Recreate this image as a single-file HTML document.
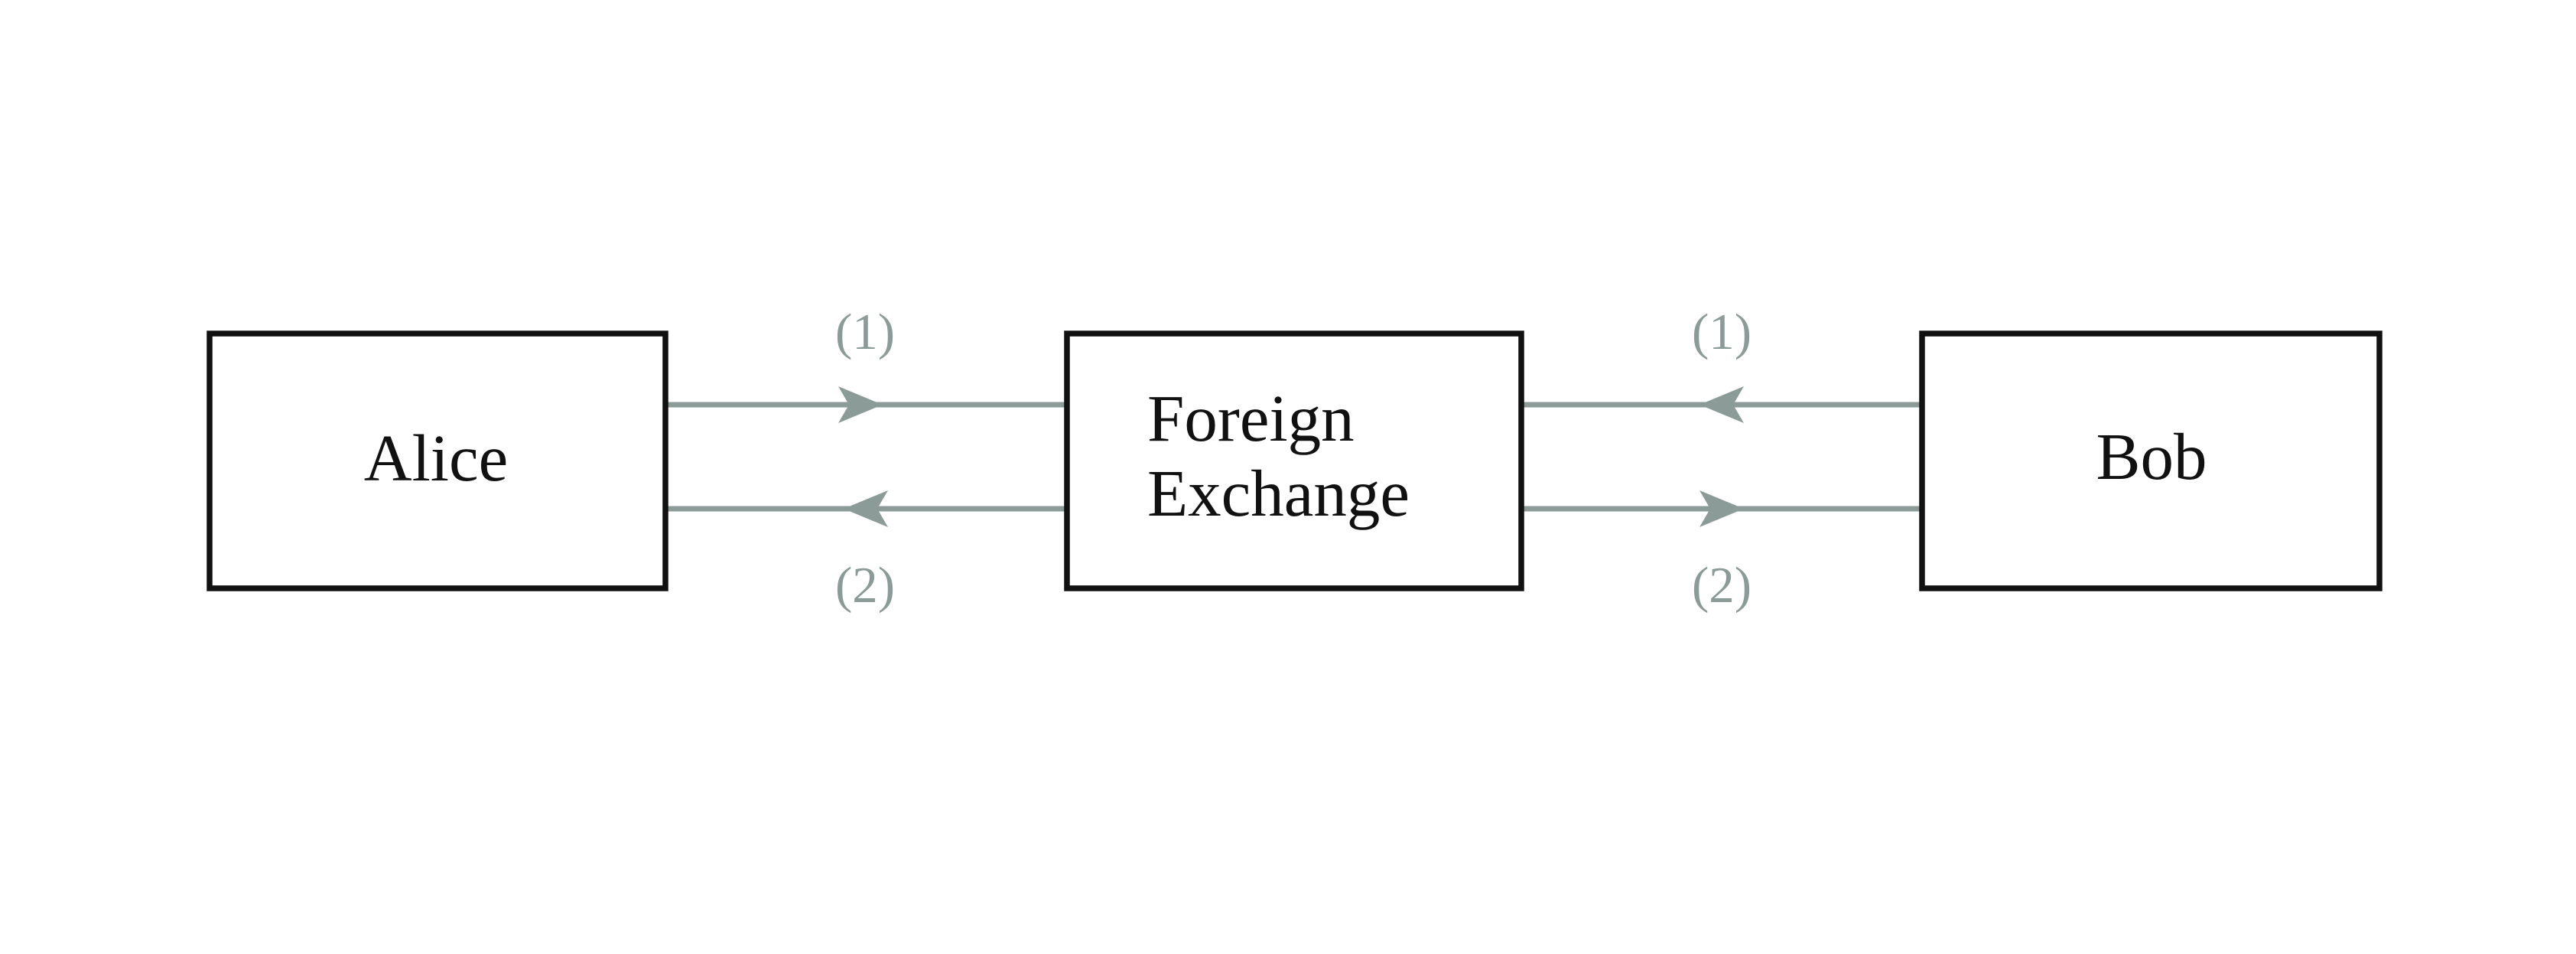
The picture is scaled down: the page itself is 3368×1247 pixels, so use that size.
<!DOCTYPE html>
<html><head><meta charset="utf-8"><style>html,body{margin:0;padding:0;background:#fff}</style></head>
<body>
<svg width="3368" height="1242" viewBox="0 0 3368 1242" xmlns="http://www.w3.org/2000/svg">
<defs>
<path id="ar" d="M0,0 L-58,-24 L-44,0 L-58,24 Z" fill="#8a9b98"/>
</defs>
<g stroke="#8a9b98" stroke-width="7">
<line x1="870" y1="529" x2="1395" y2="529"/>
<line x1="870" y1="665" x2="1395" y2="665"/>
<line x1="1989" y1="529" x2="2513" y2="529"/>
<line x1="1989" y1="665" x2="2513" y2="665"/>
</g>
<use href="#ar" transform="translate(1154,529)"/>
<use href="#ar" transform="translate(1103,665) rotate(180)"/>
<use href="#ar" transform="translate(2222,529) rotate(180)"/>
<use href="#ar" transform="translate(2280,665)"/>
<g fill="none" stroke="#111" stroke-width="7.5">
<rect x="274" y="436" width="596" height="333"/>
<rect x="1395" y="436" width="594" height="333"/>
<rect x="2513" y="436" width="598" height="333"/>
</g>
<g font-family="Liberation Serif, serif" fill="#111" font-size="87">
<text x="570" y="628" text-anchor="middle">Alice</text>
<text x="1500" y="576">Foreign</text>
<text x="1500" y="674">Exchange</text>
<text x="2813" y="626" text-anchor="middle">Bob</text>
</g>
<g font-family="Liberation Serif, serif" fill="#8a9b98" font-size="67" text-anchor="middle">
<text x="1131" y="456">(1)</text>
<text x="1131" y="787">(2)</text>
<text x="2251" y="456">(1)</text>
<text x="2251" y="787">(2)</text>
</g>
</svg>
</body></html>
